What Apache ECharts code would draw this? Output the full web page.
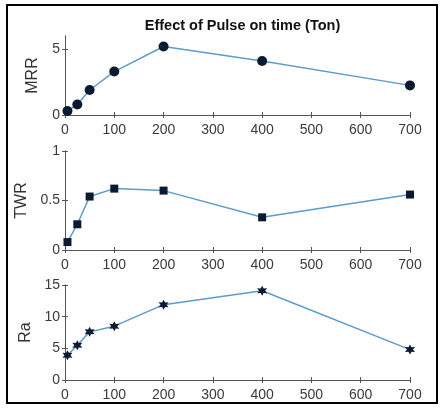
<!DOCTYPE html>
<html>
<head>
<meta charset="utf-8">
<script src="https://cdn.jsdelivr.net/npm/echarts@6/dist/echarts.min.js"></script>
<style>
  html, body { margin: 0; padding: 0; background: #fff; }
  #chart { width: 447px; height: 408px; }
</style>
</head>
<body>
<div id="chart"></div>
<script>
// Pulse on time (Ton) settings
const ton = [5, 25, 50, 100, 200, 400, 700];
// Responses
const mrr = [0.3, 0.8, 1.9, 3.3, 5.2, 4.1, 2.25];
const twr = [0.08, 0.26, 0.54, 0.62, 0.6, 0.33, 0.56];
const ra = [3.9, 5.5, 7.6, 8.5, 11.9, 14.1, 4.8];

// x range and tick step shared by all panels
const xTicks = [0, 700, 100];
// labelled y ticks per panel
const mrrTicks = [0, 5];
const twrTicks = [0, 0.5, 1];
const raTicks = [0, 5, 10, 15];

const panels = [
  { name: 'MRR', data: mrr, min: 0, max: 6, ticks: mrrTicks, symbol: 'circle', size: 10 },
  { name: 'TWR', data: twr, min: 0, max: 1, ticks: twrTicks, symbol: 'rect', size: 8 },
  { name: 'Ra', data: ra, min: 0, max: 15, ticks: raTicks,
    symbol: 'path://M0,-10 L2.6,-4.5 L8.7,-5 L5.2,0 L8.7,5 L2.6,4.5 L0,10 L-2.6,4.5 L-8.7,5 L-5.2,0 L-8.7,-5 L-2.6,-4.5 Z', size: 10 }
];

const FONT = '"Liberation Sans", Arial, sans-serif';
const axisGray = '#555';
const lineBlue = '#5c9cc9';
const markDark = '#0b1a30';

const grids = [
  { left: 65, width: 345, top: 36, height: 79 },
  { left: 65, width: 345, top: 151, height: 99 },
  { left: 65, width: 345, top: 285, height: 95 }
];

const xAxes = [], yAxes = [], series = [];
panels.forEach((p, i) => {
  const tickStyle = { show: true, inside: true, length: 3, lineStyle: { color: axisGray } };
  // bottom axis with labels
  xAxes.push({
    type: 'value', gridIndex: i, min: xTicks[0], max: xTicks[1], interval: xTicks[2],
    position: 'bottom',
    axisLine: { show: true, lineStyle: { color: axisGray, width: 1 } },
    axisTick: tickStyle,
    axisLabel: { color: '#3a3a3a', fontSize: 14, fontFamily: FONT, margin: 8 },
    splitLine: { show: false }
  });
  // top box edge with inward ticks
  xAxes.push({
    type: 'value', gridIndex: i, min: xTicks[0], max: xTicks[1], interval: xTicks[2],
    position: 'top',
    axisLine: { show: true, lineStyle: { color: axisGray, width: 1 } },
    axisTick: tickStyle,
    axisLabel: { show: false },
    splitLine: { show: false }
  });
  yAxes.push({
    type: 'value', gridIndex: i, min: p.min, max: p.max,
    position: 'left',
    name: p.name, nameLocation: 'middle', nameGap: 24, nameRotate: 90,
    nameTextStyle: { color: '#333', fontSize: 16, fontFamily: FONT },
    axisLine: { show: true, lineStyle: { color: axisGray, width: 1 } },
    axisTick: Object.assign({}, tickStyle, { customValues: p.ticks }),
    axisLabel: { color: '#3a3a3a', fontSize: 14, fontFamily: FONT, margin: 5, customValues: p.ticks },
    splitLine: { show: false }
  });
  yAxes.push({
    type: 'value', gridIndex: i, min: p.min, max: p.max,
    position: 'right',
    axisLine: { show: true, lineStyle: { color: axisGray, width: 1 } },
    axisTick: Object.assign({}, tickStyle, { customValues: p.ticks }),
    axisLabel: { show: false },
    splitLine: { show: false }
  });
  series.push({
    type: 'line',
    xAxisIndex: i * 2, yAxisIndex: i * 2,
    data: ton.map((t, k) => [t, p.data[k]]),
    symbol: p.symbol, symbolSize: p.size,
    lineStyle: { color: lineBlue, width: 1.5 },
    itemStyle: { color: markDark, borderWidth: 0 },
    clip: false,
    animation: false
  });
});

const chart = echarts.init(document.getElementById('chart'), null, { renderer: 'canvas' });
chart.setOption({
  animation: false,
  backgroundColor: '#fff',
  title: {
    text: 'Effect of Pulse on time (Ton)',
    left: 237.5, textAlign: 'center', top: 13,
    textStyle: { color: '#111', fontSize: 14.5, fontWeight: 'bold', fontFamily: FONT }
  },
  grid: grids,
  xAxis: xAxes,
  yAxis: yAxes,
  series: series,
  graphic: [{
    type: 'rect', silent: true,
    shape: { x: 7, y: 5, width: 430, height: 398 },
    style: { fill: 'none', stroke: '#000', lineWidth: 2 }
  }]
});
</script>
</body>
</html>
